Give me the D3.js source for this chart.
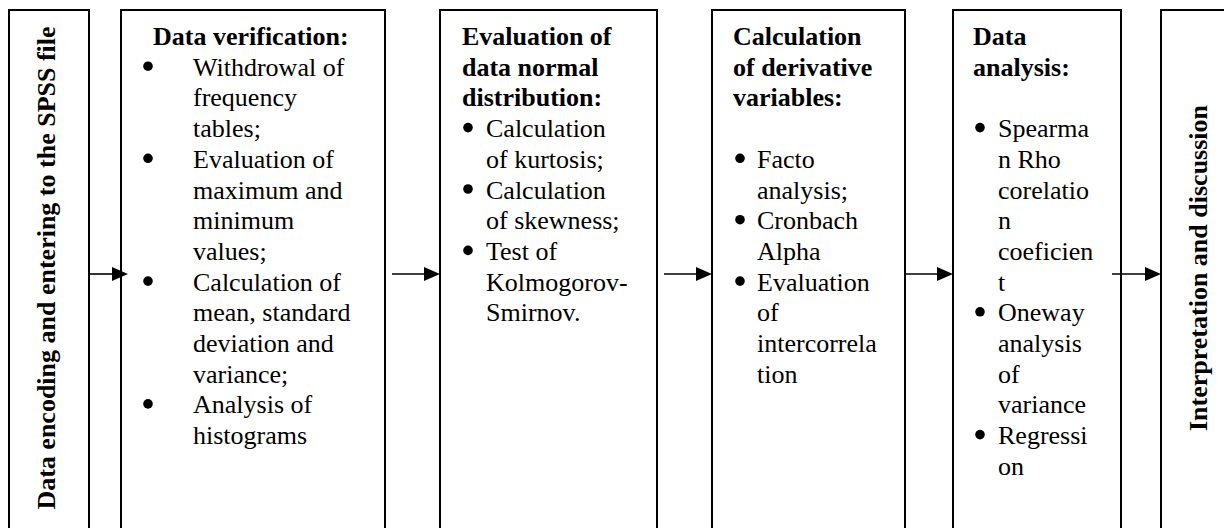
<!DOCTYPE html>
<html><head><meta charset="utf-8">
<script src="https://cdn.jsdelivr.net/npm/d3@7"></script>
<style>
html,body{margin:0;padding:0;background:#fff;}
svg{display:block;}
text{font-family:"Liberation Serif","Times New Roman",serif;fill:#000;}
</style></head>
<body>
<svg id="chart" width="1224" height="528"></svg>
<script>
// ---- data ----
const sideLabels = ["Data encoding and entering to the SPSS file", "Interpretation and discussion"];
const stageTitles = [
  ["Data verification:"],
  ["Evaluation of", "data normal", "distribution:"],
  ["Calculation", "of derivative", "variables:"],
  ["Data", "analysis:"]
];
const stageBlankAfterTitle = [false, false, true, true];
const stageItems = [
  [["Withdrowal of", "frequency", "tables;"],
   ["Evaluation of", "maximum and", "minimum", "values;"],
   ["Calculation of", "mean, standard", "deviation and", "variance;"],
   ["Analysis of", "histograms"]],
  [["Calculation", "of kurtosis;"],
   ["Calculation", "of skewness;"],
   ["Test of", "Kolmogorov-", "Smirnov."]],
  [["Facto", "analysis;"],
   ["Cronbach", "Alpha"],
   ["Evaluation", "of", "intercorrela", "tion"]],
  [["Spearma", "n Rho", "corelatio", "n", "coeficien", "t"],
   ["Oneway", "analysis", "of", "variance"],
   ["Regressi", "on"]]
];

// ---- layout ----
const svg = d3.select("#chart");
const boxes = [
  {x0: 9, x1: 89},
  {x0: 121, x1: 385},
  {x0: 440, x1: 657},
  {x0: 712, x1: 905},
  {x0: 953, x1: 1121},
  {x0: 1161, x1: 1300}
];
const boxTop = 10, boxBottom = 545;
const textPos = [
  {title: 153, bullet: 148, text: 193},
  {title: 462, bullet: 468, text: 486},
  {title: 733, bullet: 740, text: 757},
  {title: 973, bullet: 980, text: 998}
];
const arrows = [
  {x0: 89, x1: 128},
  {x0: 392, x1: 440},
  {x0: 664, x1: 712},
  {x0: 905, x1: 953},
  {x0: 1112, x1: 1161}
];
const arrowY = 274;
const lineY = d3.scaleLinear().domain([0, 1]).range([45, 75.7]);
const fontSize = 26;

svg.append("rect").attr("width", 1224).attr("height", 528).attr("fill", "#fff");

// boxes
svg.selectAll("rect.box").data(boxes).join("rect")
  .attr("class", "box")
  .attr("x", d => d.x0).attr("y", boxTop)
  .attr("width", d => d.x1 - d.x0).attr("height", boxBottom - boxTop)
  .attr("fill", "none").attr("stroke", "#000").attr("stroke-width", 2);

// arrows
const arrowG = svg.append("g");
arrows.forEach(a => {
  arrowG.append("line")
    .attr("x1", a.x0).attr("x2", a.x1 - 14).attr("y1", arrowY).attr("y2", arrowY)
    .attr("stroke", "#000").attr("stroke-width", 1.6);
  arrowG.append("path")
    .attr("d", `M${a.x1},${arrowY} L${a.x1 - 16},${arrowY - 7} L${a.x1 - 16},${arrowY + 7} Z`)
    .attr("fill", "#000");
});

// side labels (rotated)
const sideCenterY = 268;
svg.append("text")
  .attr("transform", `translate(55,${sideCenterY}) rotate(-90)`)
  .attr("text-anchor", "middle").attr("font-weight", "bold")
  .attr("font-size", fontSize).text(sideLabels[0]);
svg.append("text")
  .attr("transform", `translate(1207,${sideCenterY}) rotate(-90)`)
  .attr("text-anchor", "middle").attr("font-weight", "bold")
  .attr("font-size", fontSize).text(sideLabels[1]);

// stage contents
stageTitles.forEach((title, i) => {
  const g = svg.append("g");
  const p = textPos[i];
  let line = 0;
  title.forEach(t => {
    g.append("text").attr("x", p.title).attr("y", lineY(line))
      .attr("font-weight", "bold").attr("font-size", fontSize).text(t);
    line++;
  });
  if (stageBlankAfterTitle[i]) line++;
  stageItems[i].forEach(item => {
    g.append("circle").attr("cx", p.bullet).attr("cy", lineY(line) - 9.5).attr("r", 4.8).attr("fill", "#000");
    item.forEach(t => {
      g.append("text").attr("x", p.text).attr("y", lineY(line))
        .attr("font-size", fontSize).text(t);
      line++;
    });
  });
});
</script>
</body></html>
